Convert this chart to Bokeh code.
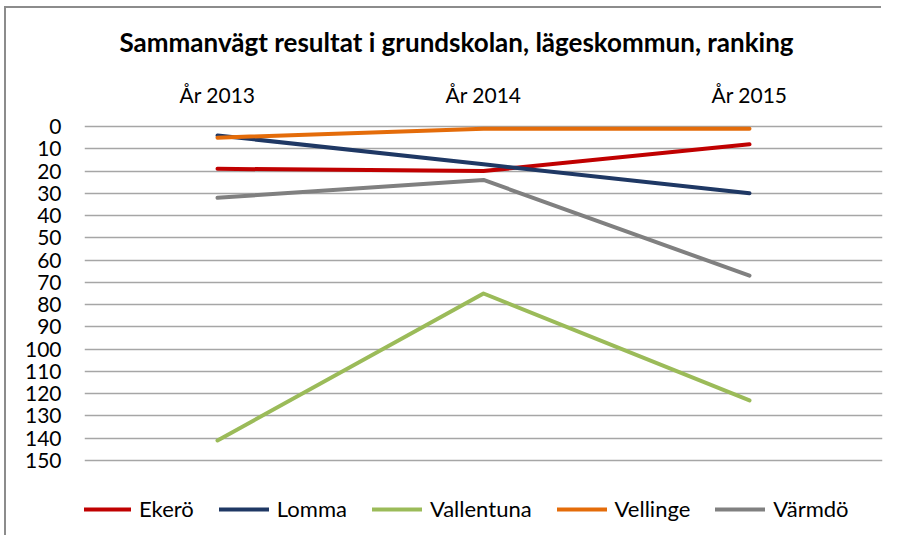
from bokeh.plotting import figure
from bokeh.models import FactorRange, Range1d, FixedTicker, Legend, LegendItem, Title
from bokeh.embed import file_html
from bokeh.resources import INLINE

# ---- data ----
years = ["År 2013", "År 2014", "År 2015"]
ekero = [19, 20, 8]
lomma = [4, 17, 30]
vallentuna = [141, 75, 123]
vellinge = [5, 1, 1]
varmdo = [32, 24, 67]
series_names = ["Ekerö", "Lomma", "Vallentuna", "Vellinge", "Värmdö"]
series_values = [ekero, lomma, vallentuna, vellinge, varmdo]
series_colors = ["#C00000", "#1F3864", "#9BBB59", "#E46C0A", "#808080"]
y_ticks = list(range(0, 151, 10))
title_text = "Sammanvägt resultat i grundskolan, lägeskommun, ranking"

FONT = "Lato"
W, H = 884, 538
FRAME_TOP = 116

# rank 0 sits at 126 px and rank 150 at 460 px; frame runs to the bottom edge
PX_PER_RANK = (460 - 126) / 150.0
Y_TOP = -(126 - FRAME_TOP) / PX_PER_RANK
Y_BOTTOM = 150 + (H - 460) / PX_PER_RANK

p = figure(
    width=W, height=H,
    x_range=FactorRange(*years, range_padding=0),
    y_range=Range1d(Y_BOTTOM, Y_TOP),
    x_axis_location="above",
    output_backend="svg", toolbar_location=None,
    min_border_left=84, min_border_right=W - 882,
    min_border_top=FRAME_TOP, min_border_bottom=0,
)
p.styles = {"box-shadow": "inset -3px -3px 0 0 #ffffff, inset 4px 6px 0 0 #ffffff, inset 6px 8px 0 0 #8c8c8c"}
p.outline_line_color = None
p.background_fill_color = "white"
p.border_fill_alpha = 0

t = Title(text=title_text, align="left", offset=35,
          text_font=FONT, text_font_size="26px", text_font_style="bold",
          text_color="#000000", standoff=41)
p.add_layout(t, "above")

# grid
p.xgrid.visible = False
p.ygrid.ticker = FixedTicker(ticks=y_ticks)
p.ygrid.grid_line_color = "#a6a6a6"
p.ygrid.grid_line_width = 1.6

# y axis
ya = p.yaxis[0]
ya.ticker = FixedTicker(ticks=y_ticks)
ya.axis_line_color = None
ya.major_tick_line_color = None
ya.minor_tick_line_color = None
ya.major_tick_out = 0
ya.major_label_standoff = 23
ya.major_label_text_font = FONT
ya.major_label_text_font_size = "21px"
ya.major_label_text_color = "#000000"

# x axis (top)
xa = p.xaxis[0]
xa.axis_line_color = None
xa.major_tick_line_color = None
xa.minor_tick_line_color = None
xa.major_tick_out = 0
xa.major_label_standoff = 10
xa.major_label_text_font = FONT
xa.major_label_text_font_size = "21px"
xa.major_label_text_color = "#000000"

items = []
for name, vals, col in zip(series_names, series_values, series_colors):
    r = p.line(x=years, y=vals, line_color=col, line_width=4, line_cap="round", line_join="round")
    items.append(LegendItem(label=name, renderers=[r]))

leg = Legend(items=items, orientation="horizontal", location=(-3, 16),
             label_text_font=FONT, label_text_font_size="22px", label_text_color="#000000",
             glyph_width=50, glyph_height=20, label_standoff=8, spacing=25,
             padding=5, margin=0, border_line_color=None, background_fill_alpha=0)
p.add_layout(leg)

open("out.html", "w").write(file_html(p, INLINE))
